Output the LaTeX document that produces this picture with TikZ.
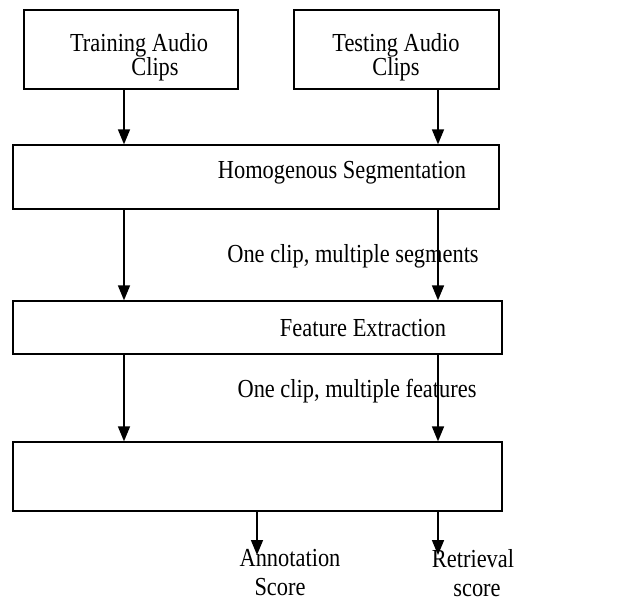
\documentclass[tikz,border=0pt]{standalone}
\usepackage{fontspec}
\setmainfont{Liberation Serif}
\usetikzlibrary{arrows.meta}

\begin{document}
\begin{tikzpicture}[x=1pt, y=-1pt,
	inbox/.style={draw, line width=2.6pt, minimum width=#1, minimum height=79pt, inner sep=0pt},
	stagebox/.style={draw, line width=1.3pt, minimum width=489pt, minimum height=#1, inner sep=0pt},
	txt/.style={align=center, inner sep=0pt, yscale=1.16, transform shape, font=\fontsize{22.4}{21}\selectfont},
	outtxt/.style={txt, font=\fontsize{22.4}{25}\selectfont},
	flow/.style={line width=1.6pt, -{Triangle[length=15pt, width=12pt]}}]
	\useasboundingbox (0, 0) rectangle (620, 601);
	% Boxes and labels:
	\node[inbox=214pt] (train) at (131, 49.5){};
	\node[inbox=205pt] (test) at (396.5, 49.5){};
	\node[txt] (trainlbl) at (139, 57){Training Audio\\\hspace*{32pt}Clips};
	\node[txt] (testlbl) at (396, 57){Testing Audio\\Clips};
	\node[stagebox=64pt, minimum width=486pt] (seg) at (256, 177){};
	\node[txt] (seglbl) at (342, 173){Homogenous Segmentation};
	\node[stagebox=53pt] (feat) at (257.5, 327.5){};
	\node[txt] (featlbl) at (363, 328){Feature Extraction};
	\node[stagebox=69pt] (model) at (257.5, 476.5){};
	\node[txt] (segnote) at (353, 256){One clip, multiple segments};
	\node[txt] (featnote) at (357, 391){One clip, multiple features};
	\node[outtxt] (annot) at (290, 573){Annotation\\\hspace*{-20pt}Score};
	\node[outtxt] (retr) at (473, 573){Retrieval\\\hspace*{8pt}score};
	\coordinate (colL) at (124, 0);
	\coordinate (colR) at (438, 0);
	\coordinate (colA) at (257, 0);
	\coordinate (annotTip) at (257, 555);
	\coordinate (retrTip) at (438, 555);
	% Arrows:
	\draw[flow] (train.south -| colL) -- (seg.north -| colL);
	\draw[flow] (test.south -| colR) -- (seg.north -| colR);
	\draw[flow] (seg.south -| colL) -- (feat.north -| colL);
	\draw[flow] (seg.south -| colR) -- (feat.north -| colR);
	\draw[flow] (feat.south -| colL) -- (model.north -| colL);
	\draw[flow] (feat.south -| colR) -- (model.north -| colR);
	\draw[flow] (model.south -| colA) -- (annotTip);
	\draw[flow] (model.south -| colR) -- (retrTip);
\end{tikzpicture}
\end{document}
